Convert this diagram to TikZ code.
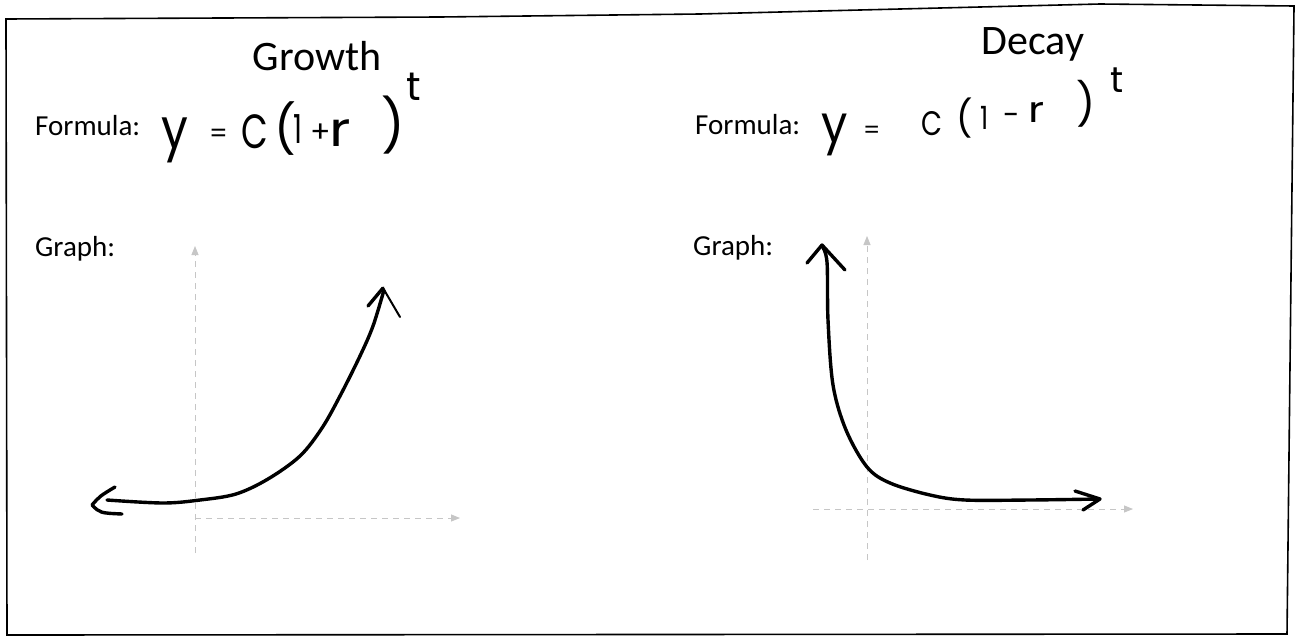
\documentclass[tikz,border=0pt]{standalone}
\usepackage{graphicx}
\usepackage{fontspec}
\setmainfont{Carlito}
\newfontfamily\hand{Poppins}
\usetikzlibrary{arrows.meta}
% one hand-written glyph: advance width, raise, font size, horizontal scale, glyph
\newcommand{\hg}[5]{\makebox[#1pt][l]{\raisebox{#2pt}{\fontsize{#3}{#3}\selectfont\scalebox{#4}[1]{#5}}}}
\tikzset{
  frame/.style={line width=1.6pt, black},
  axisline/.style={gray!45, line width=0.9pt, dash pattern=on 6pt off 5pt, -{Triangle[length=9pt,width=7pt]}},
  curve/.style={line width=3.4pt, black, line cap=round, line join=round},
  barb/.style={line width=3.4pt, black, line cap=round, line join=round},
  thinbarb/.style={line width=2pt, black, line cap=round, line join=round},
  title/.style={anchor=base, inner sep=0pt, font=\fontsize{42}{50}\selectfont},
  label/.style={anchor=base west, inner sep=0pt, font=\fontsize{29}{34}\selectfont},
  handtext/.style={anchor=base west, inner sep=0pt, text=black, font=\hand}
}
\begin{document}
\begin{tikzpicture}[x=1pt,y=-1pt]
\useasboundingbox (0,0) rectangle (1297,637);
\fill[white] (0,0) rectangle (1297,637);
% page frame
\draw[frame] (6,19) -- (440,17) -- (700,14) -- (1100,4) -- (1294,6) -- (1287,634) -- (7,635) -- cycle;

% ---------- Growth ----------
\node[title] (gtitle) at (317,70) {Growth};
\node[label] (gformula) at (35,135) {Formula:};
\node[label] (ggraph) at (35,256) {Graph:};
\node[handtext] (geq) at (161,148)
  {\hg{48}{0}{56}{0.85}{y}\hg{32}{6}{26}{1}{=}\hg{33}{0}{48}{0.72}{C}\hg{19}{2}{48}{1}{(}\hg{17}{5}{40}{0.7}{1}\hg{19}{6}{30}{1}{+}\hg{52}{2}{48}{1.2}{r}\hg{25}{4}{52}{1}{)}\hg{30}{48}{40}{1}{t}};

% axes
\coordinate (gyb) at (195,553);
\coordinate (gyt) at (195,246);
\coordinate (gxl) at (195,518);
\coordinate (gxr) at (460,518);
\draw[axisline] (gyb) -- (gyt);
\draw[axisline] (gxl) -- (gxr);

% curve
\draw[curve] plot[smooth, tension=0.55] coordinates {(107,500) (163,503) (200,500) (236,494) (268,479) (300,456) (322,428) (340,396) (360,356) (373,326) (384,290)};
\draw[barb] (115,487) .. controls (100,496) .. (92,505) .. controls (100,513) .. (122,514);
\draw[barb] (368,306) -- (383,288);
\draw[thinbarb] (383,288) -- (400,317);

% ---------- Decay ----------
\node[title] (dtitle) at (1033,54) {Decay};
\node[label] (dformula) at (695,134) {Formula:};
\node[label] (dgraph) at (693,255) {Graph:};
\node[handtext] (deq) at (821,135)
  {\hg{42}{-7}{52}{0.9}{y}\hg{58}{-3}{24}{1}{=}\hg{35}{0}{34}{0.8}{C}\hg{24}{4}{36}{1}{(}\hg{23}{6}{32}{0.8}{1}\hg{25}{10}{30}{1}{-}\hg{48}{13}{36}{1.2}{r}\hg{34}{16}{42}{1}{)}\hg{24}{43}{36}{1}{t}};

\coordinate (dyb) at (867,560);
\coordinate (dyt) at (867,236);
\coordinate (dxl) at (813,509);
\coordinate (dxr) at (1133,509);
\draw[axisline] (dyb) -- (dyt);
\draw[axisline] (dxl) -- (dxr);

\draw[curve] plot[smooth, tension=0.55] coordinates {(822,246) (827,262) (828,320) (833,385) (846,430) (867,467) (890,483) (930,495) (965,500) (1030,500) (1099,499)};
\draw[barb] (807,263) -- (822,245) -- (845,270);
\draw[barb] (1075,491) -- (1100,499) -- (1083,510);
\end{tikzpicture}
\end{document}
